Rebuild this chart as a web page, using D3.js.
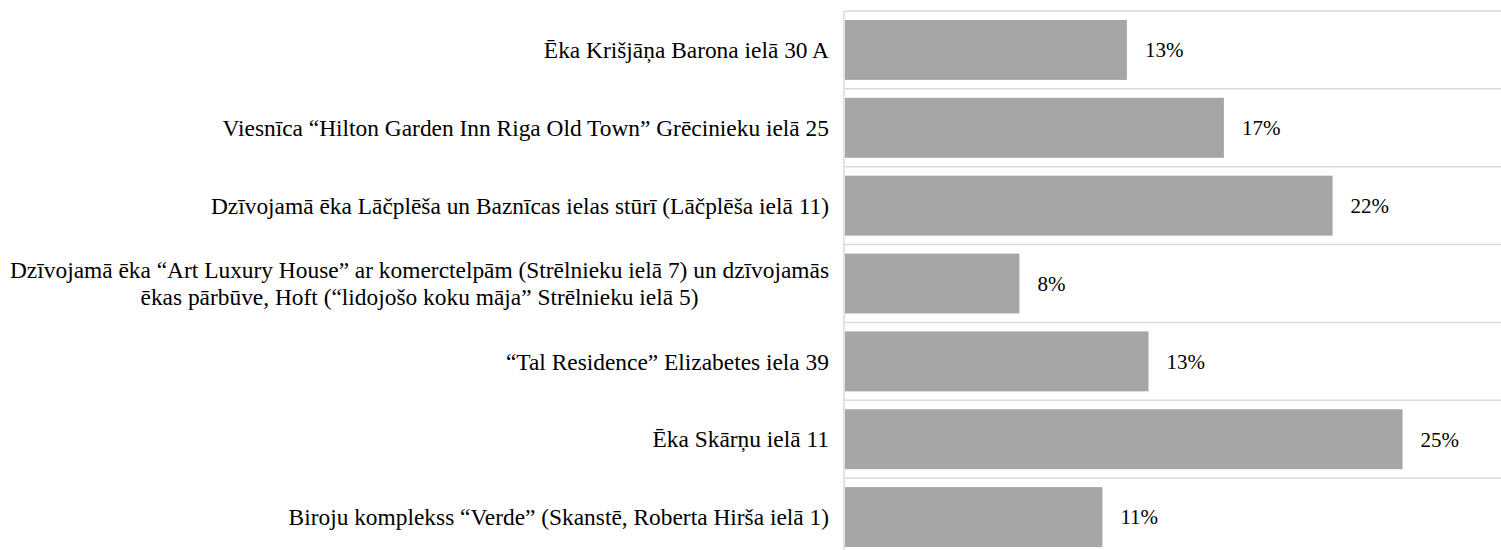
<!DOCTYPE html>
<html>
<head>
<meta charset="utf-8">
<script src="https://cdn.jsdelivr.net/npm/d3@7"></script>
<style>
  body { margin: 0; background: #fff; }
  text { font-family: "Liberation Serif", "Times New Roman", serif; fill: #000; }
</style>
</head>
<body>
<div id="chart"></div>
<script>
var categories = [
  ["Ēka Krišjāņa Barona ielā 30 A"],
  ["Viesnīca “Hilton Garden Inn Riga Old Town” Grēcinieku ielā 25"],
  ["Dzīvojamā ēka Lāčplēša un Baznīcas ielas stūrī (Lāčplēša ielā 11)"],
  ["Dzīvojamā ēka “Art Luxury House” ar komerctelpām (Strēlnieku ielā 7) un dzīvojamās",
   "ēkas pārbūve, Hoft (“lidojošo koku māja” Strēlnieku ielā 5)"],
  ["“Tal Residence” Elizabetes iela 39"],
  ["Ēka Skārņu ielā 11"],
  ["Biroju komplekss “Verde” (Skanstē, Roberta Hirša ielā 1)"]
];
var values = [0.1253, 0.1684, 0.2167, 0.0775, 0.1349, 0.2478, 0.1144];

var width = 1501, height = 550;
var margin = {top: 11, left: 845};

var svg = d3.select('#chart')
  .append('svg')
  .attr('width', width)
  .attr('height', height);

var idx = d3.range(values.length);

var y = d3.scaleBand()
  .domain(idx)
  .range([margin.top, margin.top + 77.86 * values.length])
  .paddingInner(0.23)
  .paddingOuter(0.115);

var x = d3.scaleLinear()
  .domain([0, 0.30])
  .range([margin.left, margin.left + 675]);

// gridlines between categories
var bounds = d3.range(values.length + 1).map(function (i) { return margin.top + i * y.step(); });
svg.selectAll('.grid')
  .data(bounds)
  .enter()
  .append('line')
  .attr('class', 'grid')
  .attr('x1', margin.left)
  .attr('x2', width)
  .attr('y1', function (d) { return d; })
  .attr('y2', function (d) { return d; })
  .style('stroke', '#d9d9d9')
  .style('stroke-width', 1.5);

svg.selectAll('.bar')
  .data(idx)
  .enter()
  .append('rect')
  .attr('class', 'bar')
  .attr('x', x(0))
  .attr('y', function (i) { return y(i); })
  .attr('width', function (i) { return x(values[i]) - x(0); })
  .attr('height', y.bandwidth())
  .style('fill', '#a6a6a6');

// axis line
svg.append('line')
  .attr('x1', margin.left - 1)
  .attr('x2', margin.left - 1)
  .attr('y1', margin.top)
  .attr('y2', height)
  .style('stroke', '#d9d9d9')
  .style('stroke-width', 1.5);

var fmt = d3.format('.0%');

svg.selectAll('.val')
  .data(idx)
  .enter()
  .append('text')
  .attr('class', 'val')
  .attr('x', function (i) { return x(values[i]) + 18; })
  .attr('y', function (i) { return y(i) + y.bandwidth() / 2; })
  .attr('dy', '0.35em')
  .style('font-size', '21px')
  .text(function (i) { return fmt(values[i]); });

var lab = svg.selectAll('.cat')
  .data(idx)
  .enter()
  .append('text')
  .attr('class', 'cat')
  .attr('text-anchor', 'middle')
  .style('font-size', '23.4px');

lab.each(function (i) {
  var lines = categories[i];
  var t = d3.select(this);
  var cy = y(i) + y.bandwidth() / 2;
  var lh = 27;
  lines.forEach(function (s, j) {
    t.append('tspan')
      .attr('y', cy + (j - (lines.length - 1) / 2) * lh)
      .attr('dy', '0.35em')
      .text(s);
  });
  // wrapped labels are centred on their widest line, right edge fixed
  var widest = d3.max(t.selectAll('tspan').nodes(), function (n) { return n.getComputedTextLength(); });
  t.selectAll('tspan').attr('x', margin.left - 16 - widest / 2);
});
</script>
</body>
</html>
